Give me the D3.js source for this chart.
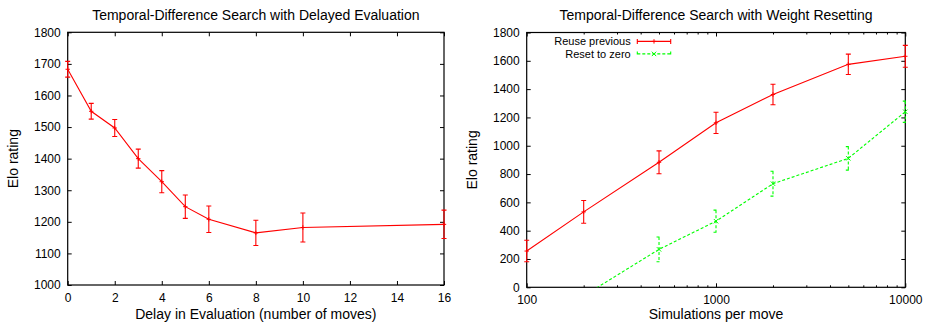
<!DOCTYPE html>
<html>
<head>
<meta charset="utf-8">
<script src="https://cdn.jsdelivr.net/npm/d3@7"></script>
<style>
  html, body { margin: 0; padding: 0; background: #fff; }
  svg { display: block; }
  text { font-family: "Liberation Sans", Arial, Helvetica, sans-serif; fill: #000; }
</style>
</head>
<body>
<svg id="chart" width="928" height="326"></svg>
<script>
// Left panel: Elo vs. evaluation delay
const delays = [0, 1, 2, 3, 4, 5, 6, 8, 10, 16];
const delayElo = [1683, 1550, 1497, 1400, 1327, 1248, 1208, 1165, 1182, 1192];
const delayErr = [25, 25, 27, 30, 35, 37, 42, 40, 46, 45];
const delayTicks = [0, 2, 4, 6, 8, 10, 12, 14, 16];
const delayEloTicks = [1000, 1100, 1200, 1300, 1400, 1500, 1600, 1700, 1800];

// Right panel: Elo vs. simulations per move
const reuseSims = [100, 200, 500, 1000, 2000, 5000, 10000];
const reuseElo = [256, 533, 883, 1162, 1362, 1575, 1632];
const reuseErr = [76, 80, 81, 75, 72, 72, 77];
const resetSims = [200, 500, 1000, 2000, 5000, 10000];
const resetElo = [-60, 268, 467, 732, 911, 1240];
const resetErr = [80, 87, 78, 88, 83, 75];
const simTicks = [100, 1000, 10000];
const simEloTicks = [0, 200, 400, 600, 800, 1000, 1200, 1400, 1600, 1800];

const svg = d3.select("#chart");
const TICK_FONT = "12px";
const LABEL_FONT = "14px";
const LEGEND_FONT = "11px";
const RED = "#ff0000", GREEN = "#00ff00";

function panel(opts) {
  const { left, right, top, bottom, x, y, xTicks, yTicks, xMinor, title, xLabel, yLabelX, id } = opts;
  x.range([left, right]);
  y.range([bottom, top]);
  const g = svg.append("g");

  g.append("clipPath").attr("id", id).append("rect")
    .attr("x", left).attr("y", top).attr("width", right - left).attr("height", bottom - top);

  const styleAxis = (sel, showLabels) => {
    sel.select(".domain").remove();
    sel.selectAll(".tick line").attr("stroke", "#000").attr("stroke-width", 1);
    sel.selectAll(".tick text").style("font-size", TICK_FONT).attr("fill", "#000");
    if (!showLabels) sel.selectAll(".tick text").remove();
  };

  // bottom + top x ticks (inward)
  g.append("g").attr("transform", `translate(0,${bottom})`)
    .call(d3.axisBottom(x).tickValues(xTicks).tickSize(-4).tickPadding(8).tickFormat(d => d))
    .call(s => styleAxis(s, true));
  g.append("g").attr("transform", `translate(0,${top})`)
    .call(d3.axisTop(x).tickValues(xTicks).tickSize(-4))
    .call(s => styleAxis(s, false));
  if (xMinor) {
    g.append("g").attr("transform", `translate(0,${bottom})`)
      .call(d3.axisBottom(x).tickValues(xMinor).tickSize(-2))
      .call(s => styleAxis(s, false));
    g.append("g").attr("transform", `translate(0,${top})`)
      .call(d3.axisTop(x).tickValues(xMinor).tickSize(-2))
      .call(s => styleAxis(s, false));
  }
  // left + right y ticks (inward)
  g.append("g").attr("transform", `translate(${left},0)`)
    .call(d3.axisLeft(y).tickValues(yTicks).tickSize(-4).tickPadding(7).tickFormat(d => d))
    .call(s => styleAxis(s, true));
  g.append("g").attr("transform", `translate(${right},0)`)
    .call(d3.axisRight(y).tickValues(yTicks).tickSize(-4))
    .call(s => styleAxis(s, false));

  // frame
  g.append("rect").attr("x", left).attr("y", top)
    .attr("width", right - left).attr("height", bottom - top)
    .attr("fill", "none").attr("stroke", "#000").attr("stroke-width", 1.2);

  // texts
  g.append("text").attr("x", (left + right) / 2).attr("y", 19.5)
    .attr("text-anchor", "middle").style("font-size", LABEL_FONT).text(title);
  g.append("text").attr("x", (left + right) / 2).attr("y", 319)
    .attr("text-anchor", "middle").style("font-size", LABEL_FONT).text(xLabel);
  g.append("text")
    .attr("transform", `translate(${yLabelX},${(top + bottom) / 2}) rotate(-90)`)
    .attr("text-anchor", "middle").attr("dy", "0.35em")
    .style("font-size", LABEL_FONT).text("Elo rating");

  return g;
}

function series(g, id, x, y, xs, ys, es, color, dash, marker, domainY) {
  const pts = xs.map((d, i) => ({ x: d, y: ys[i], e: es[i] }));
  // the connecting line is clipped to the plot frame
  g.append("g").attr("clip-path", `url(#${id})`).append("path")
    .attr("d", d3.line().x(d => x(d.x)).y(d => y(d.y))(pts))
    .attr("fill", "none").attr("stroke", color).attr("stroke-width", 1.1)
    .attr("stroke-dasharray", dash);
  // points outside the y range are skipped for bars and markers
  const inRange = pts.filter(d => d.y >= domainY[0] && d.y <= domainY[1]);
  const cap = 2.5;
  const eb = g.append("g").attr("stroke", color).attr("stroke-width", 1.1)
    .attr("stroke-dasharray", dash).attr("fill", "none");
  inRange.forEach(d => {
    const px = x(d.x), y1 = y(d.y + d.e), y0 = y(d.y - d.e);
    eb.append("path").attr("d",
      `M${px},${y1}V${y0}M${px - cap},${y1}H${px + cap}M${px - cap},${y0}H${px + cap}`);
  });
  const mk = g.append("g").attr("stroke", color).attr("stroke-width", 1).attr("fill", "none");
  inRange.forEach(d => {
    const px = x(d.x), py = y(d.y), s = 2.2;
    if (marker === "plus") {
      mk.append("path").attr("d", `M${px - s},${py}H${px + s}M${px},${py - s}V${py + s}`);
    } else {
      mk.append("path").attr("d", `M${px - s},${py - s}L${px + s},${py + s}M${px - s},${py + s}L${px + s},${py - s}`);
    }
  });
}

// ---- left panel
const xL = d3.scaleLinear().domain([0, 16]);
const yL = d3.scaleLinear().domain([1000, 1800]);
const gL = panel({
  id: "clipL", left: 67.7, right: 444, top: 32.3, bottom: 285,
  x: xL, y: yL, xTicks: delayTicks, yTicks: delayEloTicks,
  title: "Temporal-Difference Search with Delayed Evaluation",
  xLabel: "Delay in Evaluation (number of moves)", yLabelX: 13.3
});
series(gL, "clipL", xL, yL, delays, delayElo, delayErr, RED, null, "plus", yL.domain());

// ---- right panel
const xR = d3.scaleLog().domain([100, 10000]);
const yR = d3.scaleLinear().domain([0, 1800]);
const minorR = xR.copy().ticks().filter(v => !simTicks.includes(v));
const gR = panel({
  id: "clipR", left: 526.7, right: 905.3, top: 32.5, bottom: 287.3,
  x: xR, y: yR, xTicks: simTicks, yTicks: simEloTicks, xMinor: minorR,
  title: "Temporal-Difference Search with Weight Resetting",
  xLabel: "Simulations per move", yLabelX: 472
});
series(gR, "clipR", xR, yR, reuseSims, reuseElo, reuseErr, RED, null, "plus", yR.domain());
series(gR, "clipR", xR, yR, resetSims, resetElo, resetErr, GREEN, "3,2", "cross", yR.domain());

// legend
const legend = [
  { label: "Reuse previous", color: RED, dash: null, marker: "plus" },
  { label: "Reset to zero", color: GREEN, dash: "3,2", marker: "cross" }
];
const lg = svg.append("g");
legend.forEach((d, i) => {
  const cy = 41.4 + i * 12.5;
  lg.append("text").attr("x", 630.7).attr("y", cy).attr("dy", "0.35em")
    .attr("text-anchor", "end").style("font-size", LEGEND_FONT).text(d.label);
  const x0 = 637.3, x1 = 670.7, xm = (x0 + x1) / 2, c = 2.5, s = 2.2;
  const p = `M${x0},${cy}H${x1}M${x0},${cy - c}V${cy + c}M${x1},${cy - c}V${cy + c}`;
  lg.append("path").attr("d", p).attr("stroke", d.color).attr("fill", "none")
    .attr("stroke-width", 1.1).attr("stroke-dasharray", d.dash);
  const m = d.marker === "plus"
    ? `M${xm - s},${cy}H${xm + s}M${xm},${cy - s}V${cy + s}`
    : `M${xm - s},${cy - s}L${xm + s},${cy + s}M${xm - s},${cy + s}L${xm + s},${cy - s}`;
  lg.append("path").attr("d", m).attr("stroke", d.color).attr("fill", "none");
});
</script>
</body>
</html>
